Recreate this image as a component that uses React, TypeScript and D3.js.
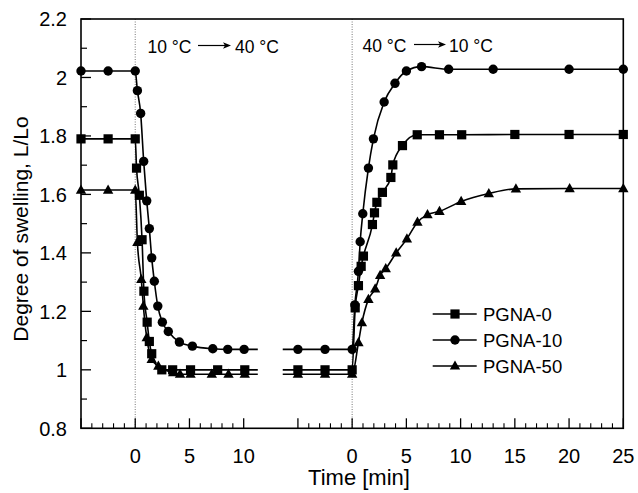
import React from "react";
import * as d3 from "d3";

// ---------- data ----------
const seriesNames = ["PGNA-0", "PGNA-10", "PGNA-50"];

// heating step 10 °C -> 40 °C (time in min, L/Lo)
const pgna0Heat: [number, number][] = [
  [-5, 1.79], [-2.5, 1.79], [0, 1.79], [0.12, 1.69], [0.38, 1.597], [0.63, 1.445],
  [0.8, 1.269], [1.1, 1.163], [1.3, 1.097], [1.52, 1.055], [2.45, 1.0], [3.45, 1.0],
  [5.1, 1.0], [7.6, 1.0], [10.1, 1.0],
];
const pgna10Heat: [number, number][] = [
  [-5, 2.022], [-2.5, 2.022], [0, 2.022], [0.2, 1.955], [0.5, 1.877], [0.78, 1.713],
  [1.06, 1.578], [1.3, 1.483], [1.52, 1.383], [1.76, 1.303], [2.08, 1.218], [2.5, 1.163],
  [3.05, 1.131], [4.07, 1.095], [5.27, 1.081], [7.15, 1.072], [8.53, 1.07], [10.04, 1.07],
];
const pgna50Heat: [number, number][] = [
  [-5, 1.615], [-2.5, 1.615], [0, 1.615], [0.2, 1.436], [0.56, 1.309], [0.75, 1.218],
  [1.06, 1.11], [1.52, 1.036], [2.13, 1.013], [3.5, 0.99], [4.13, 0.985], [5.1, 0.985],
  [7.06, 0.985], [8.6, 0.985], [10.1, 0.985],
];

// cooling step 40 °C -> 10 °C
const pgna0Cool: [number, number][] = [
  [-5, 1.0], [-2.5, 1.0], [0, 1.0], [0.28, 1.212], [0.58, 1.288], [0.83, 1.354],
  [1.04, 1.389], [1.87, 1.497], [2.06, 1.537], [2.28, 1.573], [2.79, 1.607], [3.57, 1.658],
  [3.75, 1.701], [4.64, 1.767], [6.0, 1.804], [8.05, 1.804], [10.1, 1.804], [15, 1.805],
  [20, 1.805], [25, 1.805],
];
const pgna10Cool: [number, number][] = [
  [-5, 1.07], [-2.5, 1.07], [0, 1.07], [0.25, 1.222], [0.58, 1.337], [0.74, 1.438],
  [0.98, 1.534], [1.5, 1.69], [1.96, 1.79], [2.95, 1.916], [3.95, 1.98], [5.0, 2.022],
  [6.4, 2.037], [8.9, 2.028], [13, 2.028], [20, 2.028], [25, 2.028],
];
const pgna50Cool: [number, number][] = [
  [-5, 0.985], [-2.5, 0.985], [0, 0.985], [0.58, 1.093], [0.9, 1.161], [1.5, 1.241],
  [2.12, 1.277], [2.58, 1.323], [3.1, 1.346], [4.06, 1.4], [5.05, 1.448], [6.02, 1.505],
  [6.95, 1.531], [8.05, 1.542], [10.05, 1.576], [12.6, 1.603], [15.1, 1.619],
  [20.05, 1.62], [25, 1.62],
];

const heatSeries = [pgna0Heat, pgna10Heat, pgna50Heat];
const coolSeries = [pgna0Cool, pgna10Cool, pgna50Cool];

const leftTickLabels = [0, 5, 10];
const rightTickLabels = [0, 5, 10, 15, 20, 25];
const yTickValues = [0.8, 1, 1.2, 1.4, 1.6, 1.8, 2, 2.2];

// ---------- layout ----------
const W = 638;
const H = 493;
const PLOT = { left: 81, top: 19, right: 623.3, bottom: 428.3 };
const RIGHT_OFFSET = 20; // right-panel t = 0 sits at continuous 20
const LEFT_LINE_END = 11.3;
const RIGHT_LINE_START = -6.4;
const FONT = "'Liberation Sans', Arial, Helvetica, sans-serif";

const x = d3.scaleLinear().domain([-5, 45]).range([PLOT.left, PLOT.right]);
const y = d3.scaleLinear().domain([0.8, 2.2]).range([PLOT.bottom, PLOT.top]);

function Marker({ kind, cx, cy }: { kind: number; cx: number; cy: number }) {
  if (kind === 0) return <rect x={cx - 4.6} y={cy - 4.6} width={9.2} height={9.2} fill="#000" />;
  if (kind === 1) return <circle cx={cx} cy={cy} r={4.7} fill="#000" />;
  return <path d={`M${cx},${cy - 5.6}L${cx + 5.2},${cy + 3.6}L${cx - 5.2},${cy + 3.6}Z`} fill="#000" />;
}

function Arrow({ x1, x2, yy }: { x1: number; x2: number; yy: number }) {
  return (
    <g>
      <line x1={x1} x2={x2 - 4} y1={yy} y2={yy} stroke="#000" strokeWidth={1.2} />
      <path d={`M${x2},${yy}L${x2 - 8},${yy - 3.2}L${x2 - 6},${yy}L${x2 - 8},${yy + 3.2}Z`} fill="#000" />
    </g>
  );
}

export default function App() {
  const lineGen = (offset: number) =>
    d3
      .line<[number, number]>()
      .x((d) => x(d[0] + offset))
      .y((d) => y(d[1]))
      .curve(d3.curveMonotoneX);

  const leftLine = lineGen(0);
  const rightLine = lineGen(RIGHT_OFFSET);

  // tick positions (continuous coordinate)
  const majorX: number[] = [];
  const minorX: number[] = [];
  for (let t = -5; t <= 45; t++) {
    if (t > 10 && t < 15) continue;
    if (t % 5 === 0) majorX.push(t);
    else minorX.push(t);
  }
  const yMinor = d3.range(0.9, 2.2, 0.2);

  return (
    <svg
      width={W}
      height={H}
      style={{ position: "absolute", left: 0, top: 0, background: "#fff" }}
      fontFamily={FONT}
    >
      <rect x={0} y={0} width={W} height={H} fill="#fff" />

      {/* dotted zero lines */}
      {[0, RIGHT_OFFSET].map((t) => (
        <line
          key={t}
          x1={x(t)}
          x2={x(t)}
          y1={PLOT.top}
          y2={PLOT.bottom}
          stroke="#777"
          strokeWidth={1}
          strokeDasharray="1,1.5"
        />
      ))}

      {/* y ticks */}
      {yTickValues.map((v) => (
        <g key={v}>
          <line x1={PLOT.left} x2={PLOT.left + 10} y1={y(v)} y2={y(v)} stroke="#000" strokeWidth={1.3} />
          <text x={67} y={y(v)} dy="0.36em" textAnchor="end" fontSize={20}>
            {String(v)}
          </text>
        </g>
      ))}
      {yMinor.map((v) => (
        <line key={v} x1={PLOT.left} x2={PLOT.left + 6} y1={y(v)} y2={y(v)} stroke="#000" strokeWidth={1.2} />
      ))}

      {/* x ticks */}
      {majorX.map((t) => (
        <line key={"M" + t} x1={x(t)} x2={x(t)} y1={PLOT.bottom} y2={PLOT.bottom - 10} stroke="#000" strokeWidth={1.3} />
      ))}
      {minorX.map((t) => (
        <line key={"m" + t} x1={x(t)} x2={x(t)} y1={PLOT.bottom} y2={PLOT.bottom - 5} stroke="#000" strokeWidth={1.1} />
      ))}
      {leftTickLabels.map((t) => (
        <text key={"l" + t} x={x(t)} y={463} textAnchor="middle" fontSize={20}>
          {t}
        </text>
      ))}
      {rightTickLabels.map((t) => (
        <text key={"r" + t} x={x(t + RIGHT_OFFSET)} y={463} textAnchor="middle" fontSize={20}>
          {t}
        </text>
      ))}

      {/* series */}
      {heatSeries.map((s, i) => {
        const pts: [number, number][] = [...s, [LEFT_LINE_END, s[s.length - 1][1]]];
        return (
          <g key={"h" + i}>
            <path d={leftLine(pts) || ""} fill="none" stroke="#000" strokeWidth={1.6} />
            {s.map((d, j) => (
              <Marker key={j} kind={i} cx={x(d[0])} cy={y(d[1])} />
            ))}
          </g>
        );
      })}
      {coolSeries.map((s, i) => {
        const pts: [number, number][] = [[RIGHT_LINE_START, s[0][1]], ...s];
        return (
          <g key={"c" + i}>
            <path d={rightLine(pts) || ""} fill="none" stroke="#000" strokeWidth={1.6} />
            {s.map((d, j) => (
              <Marker key={j} kind={i} cx={x(d[0] + RIGHT_OFFSET)} cy={y(d[1])} />
            ))}
          </g>
        );
      })}

      {/* frame */}
      <rect
        x={PLOT.left}
        y={PLOT.top}
        width={PLOT.right - PLOT.left}
        height={PLOT.bottom - PLOT.top}
        fill="none"
        stroke="#000"
        strokeWidth={1.6}
      />

      {/* annotations */}
      <text x={147.5} y={52.5} fontSize={17.5}>10 °C</text>
      <Arrow x1={198} x2={231} yy={45.5} />
      <text x={235} y={52.5} fontSize={17.5}>40 °C</text>

      <text x={362.5} y={51.5} fontSize={17.5}>40 °C</text>
      <Arrow x1={414} x2={446} yy={44.5} />
      <text x={449} y={51.5} fontSize={17.5}>10 °C</text>

      {/* legend */}
      {seriesNames.map((name, i) => {
        const ly = 314 + i * 26;
        return (
          <g key={name}>
            <line x1={432.7} x2={476.7} y1={ly} y2={ly} stroke="#000" strokeWidth={1.4} />
            <Marker kind={i} cx={455} cy={ly} />
            <text x={483} y={ly} dy="0.36em" fontSize={18.5}>
              {name}
            </text>
          </g>
        );
      })}

      {/* axis titles */}
      <text x={359} y={485} textAnchor="middle" fontSize={22}>
        Time [min]
      </text>
      <text transform={`translate(28,${229}) rotate(-90)`} textAnchor="middle" fontSize={21}>
        Degree of swelling, L/Lo
      </text>
    </svg>
  );
}
